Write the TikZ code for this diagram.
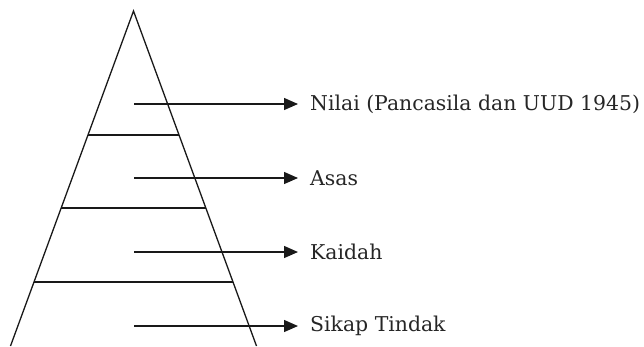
\documentclass[tikz,border=0pt]{standalone}
\usepackage{fontspec}
\setmainfont{DejaVu Serif}
\usetikzlibrary{arrows.meta}
\begin{document}
\begin{tikzpicture}[x=1pt,y=-1pt,
  edge/.style={line width=1.3pt,draw=black!90},
  arr/.style={line width=1.3pt,draw=black!90,-{Triangle[length=14pt,width=12pt]}},
  lbl/.style={anchor=west,inner xsep=12pt,inner ysep=0pt,font=\fontsize{20.4}{24}\selectfont,text=black!85}]
\useasboundingbox (0,0) rectangle (644,346);
\coordinate (top) at (133.5,11);
\coordinate (bl) at (10.5,346);
\coordinate (br) at (256.5,346);
\draw[edge] (bl) -- (top) -- (br);
\coordinate (l1) at (88,135); \coordinate (r1) at (179,135);
\coordinate (l2) at (61.2,208); \coordinate (r2) at (205.8,208);
\coordinate (l3) at (34,282); \coordinate (r3) at (233,282);
\draw[edge] (l1) -- (r1);
\draw[edge] (l2) -- (r2);
\draw[edge] (l3) -- (r3);
\node[lbl] (t1) at (298,104) {Nilai (Pancasila dan UUD 1945)};
\node[lbl] (t2) at (298,178) {Asas};
\node[lbl] (t3) at (298,252) {Kaidah};
\node[lbl] (t4) at (298,326) {Sikap Tindak};
\coordinate (s1) at (134,104);
\coordinate (s2) at (134,178);
\coordinate (s3) at (134,252);
\coordinate (s4) at (134,326);
\draw[arr] (s1) -- (t1.west);
\draw[arr] (s2) -- (t2.west);
\draw[arr] (s3) -- (t3.west);
\draw[arr] (s4) -- (t4.west);
\end{tikzpicture}
\end{document}
